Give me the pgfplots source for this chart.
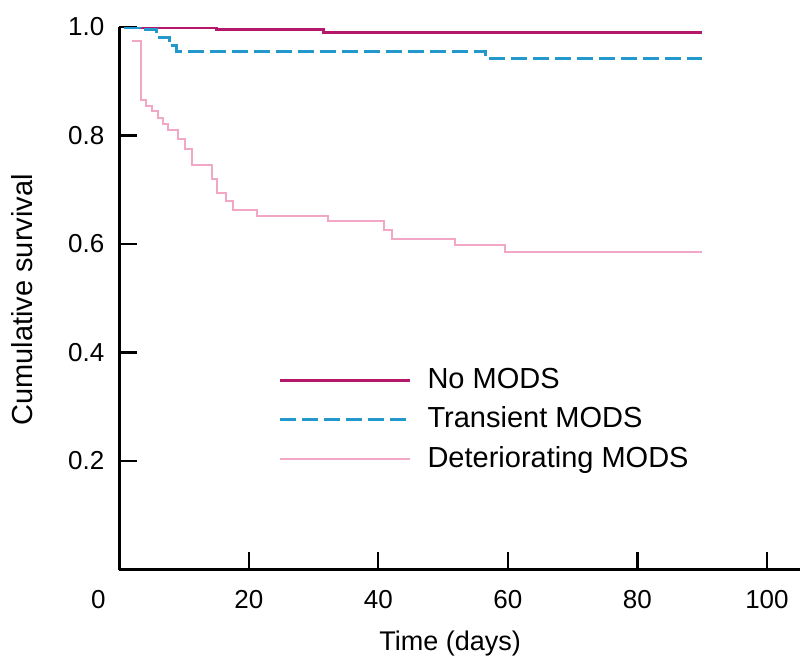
\documentclass[border=0pt]{standalone}
\usepackage{fontspec}
\setmainfont{Liberation Sans}
\usepackage{pgfplots}
\pgfplotsset{compat=1.18}
\definecolor{nomods}{HTML}{B5186B}
\definecolor{trans}{HTML}{2298CC}
\definecolor{deter}{HTML}{F2A7C6}
\begin{document}
\begin{tikzpicture}
\path[use as bounding box] (-59.65pt,-48.25pt) rectangle (340.35pt,284.75pt);
\begin{axis}[
  at={(0pt,0pt)}, anchor=south west,
  scale only axis, width=340.35pt, height=271.25pt,
  xmin=0, xmax=105.1, ymin=0, ymax=1.0,
  axis x line*=bottom, axis y line*=left,
  axis line style={line width=1.3pt},
  tick align=inside,
  major tick length=9pt,
  tick style={line width=1.1pt, black},
  xtick={20,40,60,80,100},
  extra x ticks={0},
  extra x tick style={major tick length=0pt, xticklabel style={xshift=-10.5pt}},
  ytick={0.2,0.4,0.6,0.8,1.0},
  /pgf/number format/assume math mode=true,
  yticklabel style={/pgf/number format/fixed, /pgf/number format/fixed zerofill, /pgf/number format/precision=1, xshift=-4pt},
  xticklabel style={yshift=-7pt},
  ticklabel style={font=\fontsize{13}{15}\selectfont},
  xlabel style={font=\fontsize{13.5}{16}\selectfont},
  ylabel style={font=\fontsize{14.5}{17}\selectfont},
  xlabel={Time (days)},
  ylabel={Cumulative survival},
  xlabel style={at={(axis description cs:0.486,-0.137)}, anchor=center},
  ylabel style={at={(axis description cs:-0.1425,0.497)}, anchor=center},
  legend style={at={(axis cs:23.6,0.2756)}, anchor=west, draw=none, fill=none,
    font=\fontsize{14.5}{17}\selectfont, row sep=5.75pt,
    nodes={inner sep=0pt, text height=11pt, text depth=3pt}},
  legend cell align=left,
  legend image code/.code={\draw[#1] (0pt,0pt) -- (65pt,0pt);},
]
\addplot[const plot, color=nomods, line width=1.5pt] coordinates {
(0.8,1.0) (15,0.996) (31.5,0.9895) (90,0.9895)
};
\addlegendentry{\hspace{8pt}No MODS}
\addplot[const plot, color=trans, line width=1.5pt, dash pattern=on 8pt off 3pt] coordinates {
(0.8,1.0) (3.2,0.995) (5.8,0.98) (7.8,0.965) (8.8,0.954) (56.5,0.942) (90,0.942)
};
\addlegendentry{\hspace{8pt}Transient MODS}
\addplot[const plot, color=deter, line width=1pt] coordinates {
(2,0.975) (3.4,0.865) (4.2,0.855) (5,0.845) (6,0.832) (6.8,0.822) (7.5,0.811)
(9.1,0.793) (10.2,0.775) (11.2,0.746) (14.3,0.719) (15.1,0.694) (16.4,0.679)
(17.6,0.663) (21.2,0.651) (32.3,0.642) (40.8,0.626) (42.1,0.610) (51.8,0.599)
(59.6,0.586) (90,0.586)
};
\addlegendentry{\hspace{8pt}Deteriorating MODS}
\end{axis}
\end{tikzpicture}
\end{document}
